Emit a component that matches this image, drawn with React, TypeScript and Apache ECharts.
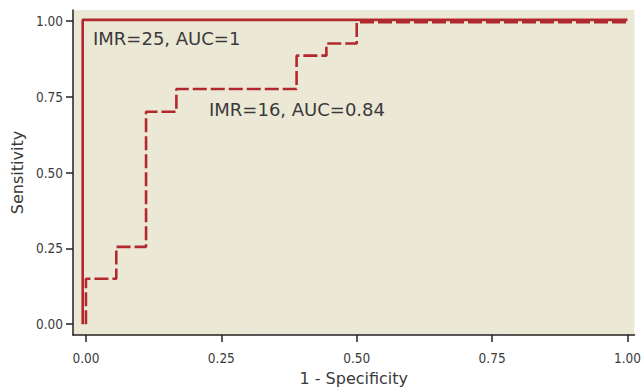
import React, { useEffect, useRef } from "react";
import * as echarts from "echarts";

const xTicks = [0, 0.25, 0.5, 0.75, 1];
const yTicks = [0, 0.25, 0.5, 0.75, 1];

// IMR=25 curve (solid)
const imr25X = [-0.006, -0.006, 1.0];
const imr25Y = [0.0, 1.003, 1.003];

// IMR=16 curve (dashed)
const imr16X = [0.0, 0.0, 0.056, 0.056, 0.111, 0.111, 0.167, 0.167, 0.389, 0.389, 0.444, 0.444, 0.5, 0.5, 1.0];
const imr16Y = [0.0, 0.15, 0.15, 0.255, 0.255, 0.70, 0.70, 0.775, 0.775, 0.885, 0.885, 0.925, 0.925, 0.995, 0.995];

const labels = ["IMR=25, AUC=1", "IMR=16, AUC=0.84"];

const RED = "#B1282F";
const TXT = "#3a3a3a";
const NARROW = "'DejaVu Sans Condensed', 'Liberation Sans Narrow', sans-serif";
const FONT = "'DejaVu Sans', 'Liberation Sans', sans-serif";

export default function App() {
  const ref = useRef<HTMLDivElement>(null);
  useEffect(() => {
    if (!ref.current) return;
    const chart = echarts.init(ref.current, undefined, { renderer: "svg" });
    const pairs = (xs: number[], ys: number[]) => xs.map((x, i) => [x, ys[i]]);
    chart.setOption({
      animation: false,
      grid: {
        left: 73,
        right: 8,
        top: 10,
        bottom: 49,
        show: true,
        backgroundColor: "#ECE8D6",
        borderWidth: 0,
      },
      xAxis: {
        type: "value",
        min: -0.0239,
        max: 1.0129,
        name: "1 - Specificity",
        nameLocation: "middle",
        nameGap: 35,
        nameTextStyle: { fontFamily: FONT, fontSize: 16, color: TXT },
        axisLine: { show: true, onZero: false, lineStyle: { color: "#222", width: 1.5 } },
        axisTick: { show: true, length: 7, customValues: xTicks, lineStyle: { color: "#222", width: 1.5 } },
        axisLabel: {
          customValues: xTicks,
          formatter: (v: number) => v.toFixed(2),
          fontFamily: NARROW,
          fontSize: 13.5,
          color: TXT,
          margin: 16,
        },
        splitLine: { show: false },
      },
      yAxis: {
        type: "value",
        min: -0.0355,
        max: 1.0355,
        name: "Sensitivity",
        nameLocation: "middle",
        nameGap: 35,
        nameTextStyle: { fontFamily: FONT, fontSize: 16, color: TXT },
        axisLine: { show: true, onZero: false, lineStyle: { color: "#222", width: 1.5 } },
        axisTick: { show: true, length: 7, customValues: yTicks, lineStyle: { color: "#222", width: 1.5 } },
        axisLabel: {
          customValues: yTicks,
          formatter: (v: number) => v.toFixed(2),
          fontFamily: NARROW,
          fontSize: 13.5,
          color: TXT,
          margin: 10,
        },
        splitLine: { show: false },
      },
      series: [
        {
          type: "line",
          data: pairs(imr25X, imr25Y),
          symbol: "none",
          lineStyle: { color: RED, width: 2.6, type: "solid" },
          z: 2,
        },
        {
          type: "line",
          data: pairs(imr16X, imr16Y),
          symbol: "none",
          lineStyle: { color: RED, width: 2.6, type: [14, 4] },
          z: 3,
        },
      ],
      graphic: [
        {
          type: "text",
          left: 93,
          top: 29,
          style: { text: labels[0], fontFamily: FONT, fontSize: 18, fill: TXT },
        },
        {
          type: "text",
          left: 209,
          top: 100,
          style: { text: labels[1], fontFamily: FONT, fontSize: 18, fill: TXT },
        },
      ],
    });
    return () => chart.dispose();
  }, []);
  return <div ref={ref} style={{ width: 644, height: 391, position: "absolute", left: 0, top: 0 }} />;
}
